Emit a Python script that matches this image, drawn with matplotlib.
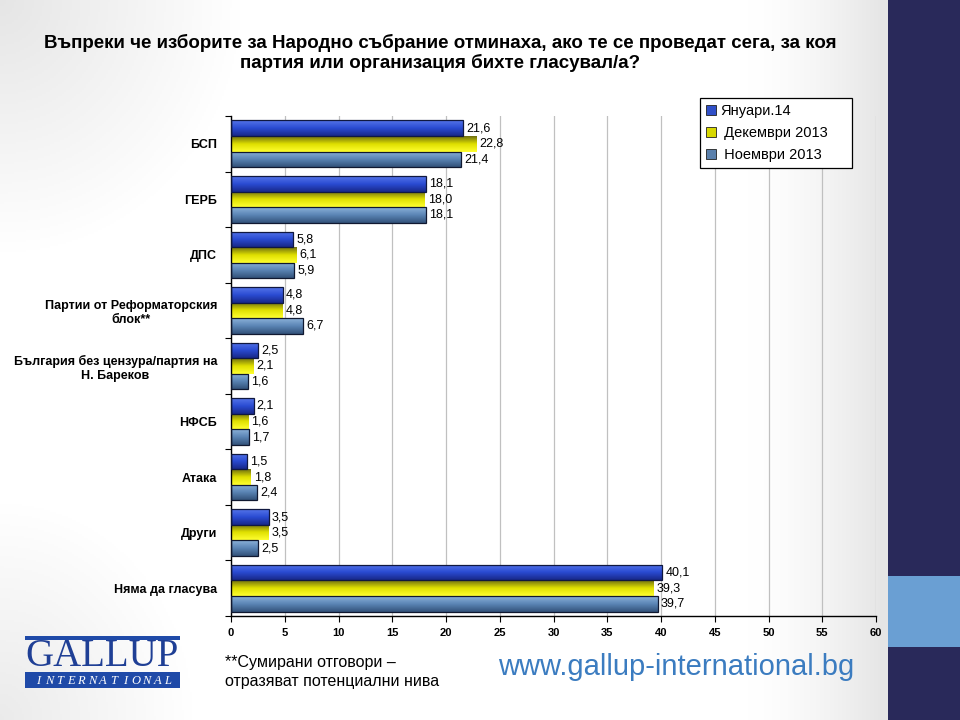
import numpy as np
import matplotlib
matplotlib.use('Agg')
import matplotlib.pyplot as plt
from matplotlib.colors import LinearSegmentedColormap
from matplotlib.patches import Rectangle, Patch

plt.rcParams['font.family'] = ['Liberation Sans', 'DejaVu Sans']

# data
categories = ['БСП', 'ГЕРБ', 'ДПС', 'Партии от Реформаторския\nблок**',
              'България без цензура/партия на\nН. Бареков', 'НФСБ', 'Атака',
              'Други', 'Няма да гласува']
series_names = ['Януари.14', ' Декември 2013', ' Ноември 2013']
jan14 = [21.6, 18.1, 5.8, 4.8, 2.5, 2.1, 1.5, 3.5, 40.1]
dec13 = [22.8, 18.0, 6.1, 4.8, 2.1, 1.6, 1.8, 3.5, 39.3]
nov13 = [21.4, 18.1, 5.9, 6.7, 1.6, 1.7, 2.4, 2.5, 39.7]
xticks = list(range(0, 65, 5))

title = ('Въпреки че изборите за Народно събрание отминаха, ако те се проведат сега, за коя\n'
         'партия или организация бихте гласувал/а?')

grads = [['#5575ea', '#2a4bd2', '#182888'],
         ['#6e6e10', '#e0e000', '#ffff30'],
         ['#8cb2da', '#5a84b4', '#33527a']]
edges = ['#101840', 'none', '#101830']
legend_cols = ['#3050c8', '#d8d800', '#5a80ac']

fig = plt.figure(figsize=(9.6, 7.2), dpi=100)

# background with soft grey edges
bg = fig.add_axes([0, 0, 1, 1], zorder=-10)
xx, yy = np.meshgrid(np.linspace(0, 1, 480), np.linspace(0, 1, 360))
shade = 1 - 0.10 * np.clip((xx - 0.78) / 0.14, 0, 1) ** 1.5
shade -= 0.10 * np.clip(1 - np.hypot(xx / 0.25, yy / 0.35), 0, 1)
shade -= 0.08 * np.clip(1 - np.hypot(xx / 0.2, (1 - yy) / 0.3), 0, 1)
bg.imshow(np.dstack([shade] * 3), extent=[0, 1, 0, 1], aspect='auto', origin='upper')
bg.axis('off')

# right side bar
fig.patches.append(Rectangle((888 / 960, 0), 72 / 960, 1, transform=fig.transFigure,
                             facecolor='#29295a', edgecolor='none', zorder=1))
fig.patches.append(Rectangle((888 / 960, 1 - 647 / 720), 72 / 960, 71 / 720,
                             transform=fig.transFigure, facecolor='#6a9fd3',
                             edgecolor='none', zorder=2))

ax = fig.add_axes([231 / 960, 1 - 616 / 720, 645 / 960, 500 / 720])
ax.patch.set_alpha(0)

y = np.arange(len(categories))
h = 0.28
for k, vals in enumerate([jan14, dec13, nov13]):
    offs = (k - 1) * h
    bars = ax.barh(y + offs, vals, height=h, facecolor='none', edgecolor=edges[k],
                   linewidth=0.9, zorder=3)
    cmap = LinearSegmentedColormap.from_list('g%d' % k, grads[k])
    for rect, v in zip(bars, vals):
        x0, y0 = rect.get_x(), rect.get_y()
        w, hh = rect.get_width(), rect.get_height()
        im = ax.imshow(np.linspace(0, 1, 64).reshape(-1, 1), cmap=cmap,
                       extent=[x0, x0 + w, y0 + hh, y0], aspect='auto', zorder=2)
        im.set_clip_path(rect)
        ax.text(v + 0.3, y0 + hh / 2, ('%.1f' % v).replace('.', ','),
                va='center', ha='left', fontsize=9, color='black', zorder=4)

ax.set_xlim(0, 60)
ax.set_ylim(len(categories) - 0.5, -0.5)
ax.set_xticks(xticks)
ax.set_xticklabels([str(t) for t in xticks], fontsize=8, fontweight='bold')
ax.set_yticks(y)
ax.set_yticklabels(categories, fontsize=9, fontweight='bold', multialignment='center')
ax.set_yticks(np.arange(-0.5, len(categories), 1), minor=True)
ax.tick_params(axis='y', which='major', length=0, pad=10)
ax.tick_params(axis='y', which='minor', length=4, direction='out', width=0.8)
ax.tick_params(axis='x', length=4, direction='out', width=0.8, pad=5)
ax.grid(axis='x', color='#c0c0c0', linewidth=0.9, zorder=0)
ax.set_axisbelow(True)
for s in ['top', 'right']:
    ax.spines[s].set_visible(False)
for s in ['left', 'bottom']:
    ax.spines[s].set_linewidth(1.0)

fig.text(440 / 960, 1 - 53 / 720, title, ha='center', va='center', fontsize=13.5,
         fontweight='bold', linespacing=1.2)

handles = [Patch(facecolor=c, edgecolor='#202020', linewidth=0.6) for c in legend_cols]
leg = fig.legend(handles, series_names, loc='upper left',
                 bbox_to_anchor=(700 / 960, 1 - 165 / 720, 152 / 960, 67 / 720),
                 mode='expand', borderaxespad=0,
                 fancybox=False, edgecolor='black', framealpha=1,
                 handlelength=0.7, handleheight=0.7, handletextpad=0.3, borderpad=0.4,
                 labelspacing=0.55, prop={'size': 10.5})
leg.get_frame().set_linewidth(0.9)

# footnote and url
fig.text(225 / 960, 1 - 672 / 720, '**Сумирани отговори –\nотразяват потенциални нива',
         ha='left', va='center', fontsize=11.5, linespacing=1.35)
fig.text(676 / 960, 1 - 667 / 720, 'www.gallup-international.bg', ha='center', va='center',
         fontsize=21, color='#3b7cc0')

# logo
fig.patches.append(Rectangle((25 / 960, 1 - 640 / 720), 155 / 960, 4 / 720,
                             transform=fig.transFigure, facecolor='#1f4aa8', edgecolor='none'))
fig.text(102 / 960, 1 - 657 / 720, 'GALLUP', ha='center', va='center', fontsize=28,
         color='#1f3f95', family=['Liberation Serif', 'DejaVu Serif'])
fig.patches.append(Rectangle((25 / 960, 1 - 688 / 720), 155 / 960, 16 / 720,
                             transform=fig.transFigure, facecolor='#1f4aa8', edgecolor='none'))
for cx, ch in zip(np.linspace(38, 168, 13), 'INTERNATIONAL'):
    fig.text(cx / 960, 1 - 680.5 / 720, ch, ha='center', va='center', fontsize=9,
             color='white', style='italic', family=['Liberation Serif', 'DejaVu Serif'])

fig.savefig('out.png', dpi=100)
